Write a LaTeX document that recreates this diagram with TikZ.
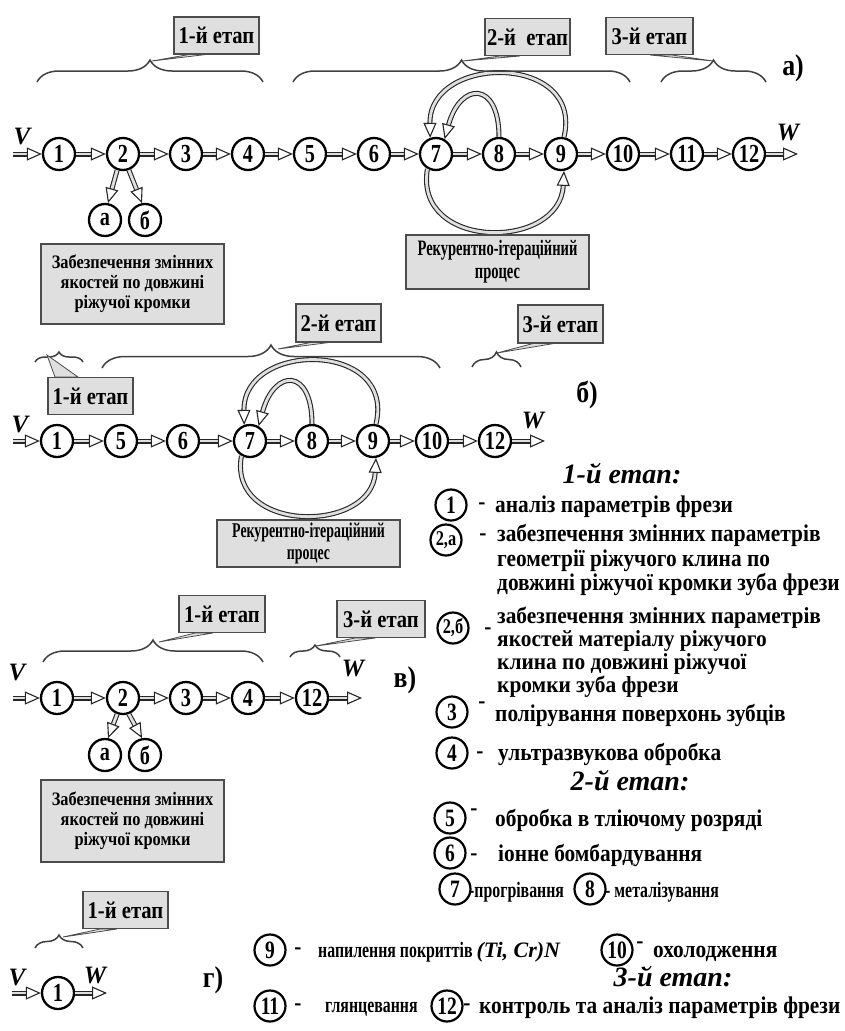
\documentclass[tikz,border=0pt]{standalone}
\usepackage{fontspec}
\setmainfont{Liberation Serif}
\newfontfamily\numf[FakeStretch=0.78]{Liberation Serif}
\newfontfamily\lblf[FakeStretch=0.86]{Liberation Serif}
\newfontfamily\legf[FakeStretch=0.89]{Liberation Serif}
\newfontfamily\legg[FakeStretch=0.93]{Liberation Serif}
\newfontfamily\narf[FakeStretch=0.72]{Liberation Serif}
\newfontfamily\procf[FakeStretch=0.66]{Liberation Serif}
\usetikzlibrary{arrows.meta,decorations.pathreplacing,calc}
\begin{document}
\begin{tikzpicture}[x=1pt,y=-1pt,
  circ/.style={circle,draw=black,line width=2.3pt,minimum size=32pt,inner sep=0pt,font=\numf\bfseries\fontsize{26}{26}\selectfont},
  lcirc/.style={circle,draw=black,line width=2.2pt,minimum size=31pt,inner sep=0pt,font=\numf\bfseries\fontsize{25}{25}\selectfont},
  harrow/.style={draw=black!85,line width=1.1pt,double=gray!25,double distance=2.8pt,-{Triangle[open,length=15pt,width=13pt]}},
  brc/.style={decorate,decoration={brace,amplitude=#1},draw=black!75,line width=1.5pt},
  tagbox/.style={draw=black!70,line width=1.4pt,fill=gray!25,minimum width=85pt,minimum height=37pt,inner sep=0pt,font=\lblf\bfseries\fontsize{24}{24}\selectfont},
  ptr/.style={draw=black!70,line width=0.8pt,fill=gray!25},
  infobox/.style={draw=black!70,line width=1.4pt,fill=gray!25,inner sep=0pt,align=center},
  vw/.style={font=\bfseries\itshape\fontsize{25}{25}\selectfont,inner sep=0pt},
  rowlbl/.style={font=\lblf\bfseries\fontsize{30}{30}\selectfont,inner sep=0pt},
  head/.style={font=\bfseries\itshape\fontsize{28}{28}\selectfont,anchor=base,inner sep=0pt},
  leg/.style={font=\legf\bfseries\fontsize{24}{22}\selectfont,anchor=base west,inner sep=0pt},
  legs/.style={font=\legg\bfseries\fontsize{23}{22}\selectfont,anchor=base west,inner sep=0pt},
  nar/.style={font=\narf\bfseries\fontsize{22}{22}\selectfont,anchor=base west,inner sep=0pt},
  dsh/.style={font=\legf\bfseries\fontsize{24}{24}\selectfont,inner sep=0pt}
]
\fill[white] (0,0) rectangle (845,1031);
\useasboundingbox (0,0) rectangle (845,1031);

% ================= row a =================
\foreach \n/\x in {1/59,2/123,3/186,4/248,5/310,6/374,7/436,8/499,9/561,10/623,11/687,12/749}
  \node[circ] (a\n) at (\x,154) {\n};
\node[circ] (aa) at (105,220) {а};
\node[circ] (ab) at (145,220) {б};
\coordinate (aV) at (13,154);
\coordinate (aW) at (798,154);
\draw[harrow] (aV) -- (a1);
\foreach \p/\q in {1/2,2/3,3/4,4/5,5/6,6/7,7/8,8/9,9/10,10/11,11/12}
  \draw[harrow] (a\p) -- (a\q);
\draw[harrow] (a12) -- (aW);
\draw[harrow] (a2.250) -- (aa.80);
\draw[harrow] (a2.290) -- (ab.100);
\draw[harrow] (a9.80) .. controls +(20,-84) and +(-1,-84) .. (a7.110);
\draw[harrow] (a8.90) .. controls +(0,-56) and +(16,-58) .. (a7.60);
\draw[harrow] (a7.240) .. controls +(-14,82) and +(-4,80) .. (a9.280);
\node[vw] (aVl) at (22,137) {V};
\node[vw] (aWl) at (788,133) {W};
\draw[brc=22] (37,82) -- (263,82);
\draw[brc=22] (293,82) -- (630,82);
\draw[brc=22] (661,82) -- (766,82);
\filldraw[ptr] (192,54) -- (152,61) -- (210,54) -- cycle;
\node[tagbox] (ta1) at (216.5,35.5) {1-й етап};
\filldraw[ptr] (500,56) -- (463,61) -- (520,56) -- cycle;
\node[tagbox] (ta2) at (527.5,37) {2-й\ \ етап};
\filldraw[ptr] (650,55) -- (713,61) -- (672,55) -- cycle;
\node[tagbox,minimum width=87pt] (ta3) at (649.5,36) {3-й етап};
\node[rowlbl] (la) at (793,68) {а)};
\node[infobox,minimum width=183pt,minimum height=80pt,font=\lblf\bfseries\fontsize{19}{20}\selectfont] (ia) at (132.5,284) {Забезпечення змінних\\якостей по довжині\\ріжучої кромки};
\node[infobox,minimum width=183pt,minimum height=54pt,font=\procf\bfseries\fontsize{22}{23}\selectfont] (pa) at (497.5,262) {Рекурентно-ітераційний\\процес};

% ================= row b =================
\foreach \n/\x in {1/57,5/121,6/183,7/250,8/312,9/373,10/432,12/495}
  \node[circ] (b\n) at (\x,441) {\n};
\coordinate (bV) at (13,441);
\coordinate (bW) at (545,441);
\draw[harrow] (bV) -- (b1);
\foreach \p/\q in {1/5,5/6,6/7,7/8,8/9,9/10,10/12}
  \draw[harrow] (b\p) -- (b\q);
\draw[harrow] (b12) -- (bW);
\draw[harrow] (b9.80) .. controls +(20,-84) and +(-1,-84) .. (b7.110);
\draw[harrow] (b8.90) .. controls +(0,-56) and +(16,-58) .. (b7.60);
\draw[harrow] (b7.240) .. controls +(-14,78) and +(-4,76) .. (b9.280);
\node[vw] (bVl) at (20,424) {V};
\node[vw] (bWl) at (533,420) {W};
\draw[brc=10] (35,362) -- (83,362);
\draw[brc=23] (102,368) -- (440,368);
\draw[brc=15] (472,367) -- (521,367);
\filldraw[ptr] (55,377) -- (47,355) -- (78,377) -- cycle;
\node[tagbox] (tb1) at (90.5,396) {1-й етап};
\filldraw[ptr] (313,342) -- (278,349) -- (333,342) -- cycle;
\node[tagbox,minimum height=38pt] (tb2) at (338.5,323) {2-й етап};
\filldraw[ptr] (535,343) -- (497,353) -- (557,343) -- cycle;
\node[tagbox,minimum height=38pt] (tb3) at (560.5,324) {3-й етап};
\node[rowlbl] (lb) at (587,395) {б)};
\node[infobox,minimum width=183pt,minimum height=47pt,font=\procf\bfseries\fontsize{21}{22}\selectfont] (pb) at (308.5,543.5) {Рекурентно-ітераційний\\процес};

% ================= row c =================
\foreach \n/\x in {1/57,2/123,3/186,4/248,12/312}
  \node[circ] (c\n) at (\x,698) {\n};
\node[circ] (ca) at (105,755) {а};
\node[circ] (cb) at (145,755) {б};
\coordinate (cV) at (13,698);
\coordinate (cW) at (362,698);
\draw[harrow] (cV) -- (c1);
\foreach \p/\q in {1/2,2/3,3/4,4/12}
  \draw[harrow] (c\p) -- (c\q);
\draw[harrow] (c12) -- (cW);
\draw[harrow] (c2.250) -- (ca.80);
\draw[harrow] (c2.290) -- (cb.100);
\node[vw] (cVl) at (17,672) {V};
\node[vw] (cWl) at (353,668) {W};
\draw[brc=22] (43,662) -- (263,662);
\draw[brc=12] (290,657) -- (340,657);
\filldraw[ptr] (195,633) -- (159,642) -- (213,633) -- cycle;
\node[tagbox,minimum width=86pt] (tc1) at (222,614) {1-й етап};
\filldraw[ptr] (355,638) -- (316,646) -- (375,638) -- cycle;
\node[tagbox,minimum width=88pt] (tc3) at (381,619) {3-й етап};
\node[rowlbl] (lc) at (405,680) {в)};
\node[infobox,minimum width=183pt,minimum height=82pt,font=\lblf\bfseries\fontsize{19}{20}\selectfont] (ic) at (132.5,821) {Забезпечення змінних\\якостей по довжині\\ріжучої кромки};

% ================= row d =================
\node[circ] (d1) at (58,993) {1};
\coordinate (dV) at (12,993);
\coordinate (dW) at (107,993);
\draw[harrow] (dV) -- (d1);
\draw[harrow] (d1) -- (dW);
\node[vw] (dVl) at (17,977) {V};
\node[vw] (dWl) at (95,975) {W};
\draw[brc=13] (35,948) -- (83,948);
\filldraw[ptr] (100,929) -- (63,937) -- (117,929) -- cycle;
\node[tagbox] (td1) at (125.5,910) {1-й етап};
\node[rowlbl] (ld) at (213,980) {г)};

% ================= legend =================
\node[head] (h1) at (622,483) {1-й етап:};
\node[lcirc] (l1) at (451,505) {1};
\node[dsh] (m1) at (482,506) {-};
\node[leg] (t1) at (495,512) {аналіз параметрів фрези};

\node[lcirc,font=\numf\bfseries\fontsize{21}{21}\selectfont] (l2a) at (446,540) {2,а};
\node[dsh] (m2a) at (483,537) {-};
\node[leg] (t2a1) at (497,541) {забезпечення змінних параметрів};
\node[leg] (t2a2) at (497,566) {геометрії ріжучого клина по};
\node[leg] (t2a3) at (497,590) {довжині ріжучої кромки зуба фрези};

\node[lcirc,font=\numf\bfseries\fontsize{21}{21}\selectfont] (l2b) at (453,628) {2,б};
\node[dsh] (m2b) at (488,631) {-};
\node[legs] (t2b1) at (497,623) {забезпечення змінних параметрів};
\node[legs] (t2b2) at (497,646) {якостей матеріалу ріжучого};
\node[legs] (t2b3) at (497,669) {клина по довжині ріжучої};
\node[legs] (t2b4) at (497,692) {кромки зуба фрези};

\node[lcirc] (l3) at (452,712) {3};
\node[dsh] (m3) at (482,705) {-};
\node[leg] (t3) at (495,721) {полірування поверхонь зубців};

\node[lcirc] (l4) at (452,753) {4};
\node[dsh] (m4) at (480,755) {-};
\node[leg] (t4) at (498,760) {ультразвукова обробка};

\node[head] (h2) at (630,790) {2-й етап:};
\node[lcirc] (l5) at (450,818) {5};
\node[dsh] (m5) at (474,812) {-};
\node[leg] (t5) at (495,826) {обробка в тліючому розряді};

\node[lcirc] (l6) at (450,853) {6};
\node[dsh] (m6) at (474,857) {-};
\node[leg] (t6) at (498,861) {іонне бомбардування};

\node[lcirc] (l7) at (455,889) {7};
\node[nar] (t7) at (469,897) {-прогрівання};
\node[lcirc] (l8) at (590,889) {8};
\node[nar] (t8) at (605,897) {- металізування};

\node[lcirc] (l9) at (270,950) {9};
\node[dsh] (m9) at (298,951) {-};
\node[nar] (t9) at (318,957) {напилення покриттів {\rmfamily\itshape\fontsize{22}{22}\selectfont (Ti, Cr)N}};
\node[lcirc] (l10) at (617,950) {10};
\node[dsh] (m10) at (640,945) {-};
\node[leg] (t10) at (653,957) {охолодження};

\node[head] (h3) at (673,986) {3-й етап:};
\node[lcirc] (l11) at (270,1006) {11};
\node[dsh] (m11) at (298,1007) {-};
\node[nar] (t11) at (325,1012) {глянцевання};
\node[lcirc] (l12) at (447,1006) {12};
\node[dsh] (m12) at (467,1007) {-};
\node[leg] (t12) at (479,1013) {контроль та аналіз параметрів фрези};
\end{tikzpicture}
\end{document}
